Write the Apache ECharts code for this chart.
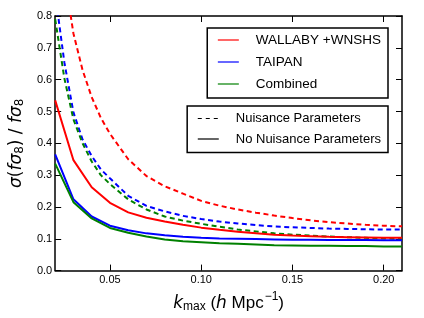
<!DOCTYPE html>
<html>
<head>
<meta charset="utf-8">
<script src="https://cdn.jsdelivr.net/npm/echarts@6/dist/echarts.min.js"></script>
<style>html,body{margin:0;padding:0;background:#fff}#c{width:424px;height:318px}</style>
</head>
<body>
<div id="c"></div>
<script>
// ---- data ----
const kSolid = [0.02,0.03,0.04,0.05,0.06,0.07,0.08,0.09,0.10,0.11,0.12,0.13,0.14,0.15,0.16,0.17,0.18,0.19,0.20,0.21];
const wallabySolid  = [0.535,0.347,0.262,0.213,0.183,0.166,0.154,0.144,0.135,0.128,0.122,0.117,0.113,0.110,0.108,0.106,0.105,0.104,0.103,0.103];
const taipanSolid   = [0.365,0.224,0.170,0.141,0.127,0.117,0.111,0.106,0.103,0.101,0.100,0.099,0.098,0.097,0.097,0.096,0.096,0.096,0.095,0.095];
const combinedSolid = [0.336,0.215,0.164,0.134,0.119,0.107,0.098,0.092,0.089,0.086,0.084,0.082,0.080,0.079,0.078,0.078,0.077,0.077,0.076,0.076];

const kDashed = [0.02,0.025,0.03,0.035,0.04,0.045,0.05,0.06,0.07,0.08,0.09,0.10,0.11,0.12,0.13,0.14,0.15,0.16,0.17,0.18,0.19,0.20,0.21];
const wallabyDashed  = [1.12,0.93,0.745,0.63,0.545,0.48,0.43,0.35,0.297,0.265,0.242,0.219,0.204,0.192,0.182,0.173,0.165,0.158,0.152,0.148,0.144,0.141,0.139];
const taipanDashed   = [0.87,0.655,0.497,0.412,0.36,0.318,0.29,0.235,0.203,0.186,0.172,0.162,0.154,0.148,0.143,0.139,0.136,0.134,0.132,0.131,0.130,0.129,0.129];
const combinedDashed = [0.79,0.605,0.475,0.40,0.343,0.30,0.272,0.224,0.192,0.170,0.157,0.147,0.138,0.129,0.123,0.117,0.113,0.110,0.107,0.105,0.103,0.101,0.100];

const xTicks = [0.05,0.10,0.15,0.20];
const surveyNames = ['WALLABY +WNSHS','TAIPAN','Combined'];
const styleNames = ['Nuisance Parameters','No Nuisance Parameters'];
const colors = ['#ff0000','#0000ff','#008000'];

// ---- chart ----
const FF = 'Liberation Sans';
const MF = 'DejaVu Sans';
const pair = (ks, vs) => ks.map((k,i)=>[k, vs[i]]);
const solids = [wallabySolid, taipanSolid, combinedSolid];
const dashes = [wallabyDashed, taipanDashed, combinedDashed];

const series = [];
dashes.forEach((d,i)=>series.push({
  name: surveyNames[i]+' dashed', type:'line', data: pair(kDashed,d), symbol:'none',
  lineStyle:{color:colors[i], width:2, type:[5,3.5]}, itemStyle:{color:colors[i]}, z:2
}));
solids.forEach((d,i)=>series.push({
  name: surveyNames[i], type:'line', data: pair(kSolid,d), symbol:'none',
  lineStyle:{color:colors[i], width:2}, itemStyle:{color:colors[i]}, z:3
}));
series.push({name:styleNames[0], type:'line', data:[], symbol:'none', lineStyle:{color:'#000', width:1, type:[4,4]}, itemStyle:{color:'#000'}});
series.push({name:styleNames[1], type:'line', data:[], symbol:'none', lineStyle:{color:'#000', width:1}, itemStyle:{color:'#000'}});
series.forEach(s=>{s.emphasis={disabled:true}; s.silent=true;});

const axLine = {show:true, onZero:false, lineStyle:{color:'#000', width:1.5}};
const tick = {show:true, inside:true, length:6, lineStyle:{color:'#000', width:1}};

const legendBase = {
  orient:'vertical', right:36, itemWidth:21, itemHeight:14, selectedMode:false,
  borderColor:'#000', borderWidth:1.5, borderRadius:0, backgroundColor:'#fff',
  itemStyle:{opacity:0, color:'rgba(0,0,0,0)', borderWidth:0},
  lineStyle:{width:1.2}
};

const chart = echarts.init(document.getElementById('c'), null, {renderer:'canvas'});
chart.setOption({
  animation:false,
  backgroundColor:'#fff',
  grid:{left:55, right:22, top:16, bottom:42, containLabel:false},
  legend:[
    Object.assign({}, legendBase, {data:surveyNames, top:28, itemGap:8, padding:[5,7,7,10],
      textStyle:{fontFamily:FF, fontSize:13.5, color:'#000', padding:[0,0,0,12]}}),
    Object.assign({}, legendBase, {data:styleNames, top:106, itemGap:7.5, padding:[6,7,7,10],
      textStyle:{fontFamily:FF, fontSize:13, color:'#000', padding:[0,0,0,12]}})
  ],
  xAxis:[
    {type:'value', min:0.02, max:0.21, position:'bottom',
     axisLine:axLine, axisTick:Object.assign({customValues:xTicks}, tick), splitLine:{show:false},
     axisLabel:{customValues:xTicks, formatter:v=>v.toFixed(2), fontFamily:FF, fontSize:11, color:'#000', margin:4},
     name:'{i|k}{s|max}{n| (}{i|h}{n| Mpc}{p|−1}{n|)}', nameLocation:'middle', nameGap:18,
     nameTextStyle:{fontFamily:FF, fontSize:17, color:'#000', rich:{
       i:{fontFamily:MF, fontSize:17, fontStyle:'italic', color:'#000'},
       n:{fontFamily:FF, fontSize:17, color:'#000'},
       s:{fontFamily:FF, fontSize:12, color:'#000', padding:[7,0,0,0]},
       p:{fontFamily:FF, fontSize:12, color:'#000', padding:[0,0,14,1]}
     }}},
    {type:'value', min:0.02, max:0.21, position:'top',
     axisLine:axLine, axisTick:Object.assign({customValues:xTicks}, tick), splitLine:{show:false},
     axisLabel:{show:false}}
  ],
  yAxis:[
    {type:'value', min:0, max:0.8, interval:0.1, position:'left',
     axisLine:axLine, axisTick:tick, splitLine:{show:false},
     axisLabel:{formatter:v=>v.toFixed(1), fontFamily:FF, fontSize:11, color:'#000', margin:3},
     name:'{i|σ}{n|(}{i|fσ}{s|8}{n|) / }{i|fσ}{s|8}', nameLocation:'middle', nameGap:19,
     nameTextStyle:{fontFamily:FF, fontSize:16, color:'#000', rich:{
       i:{fontFamily:MF, fontSize:17, fontStyle:'italic', color:'#000'},
       n:{fontFamily:MF, fontSize:17, color:'#000'},
       s:{fontFamily:MF, fontSize:12, color:'#000', padding:[7,0,0,0]}
     }}},
    {type:'value', min:0, max:0.8, interval:0.1, position:'right',
     axisLine:axLine, axisTick:tick, splitLine:{show:false}, axisLabel:{show:false}}
  ],
  series: series
});
</script>
</body>
</html>
